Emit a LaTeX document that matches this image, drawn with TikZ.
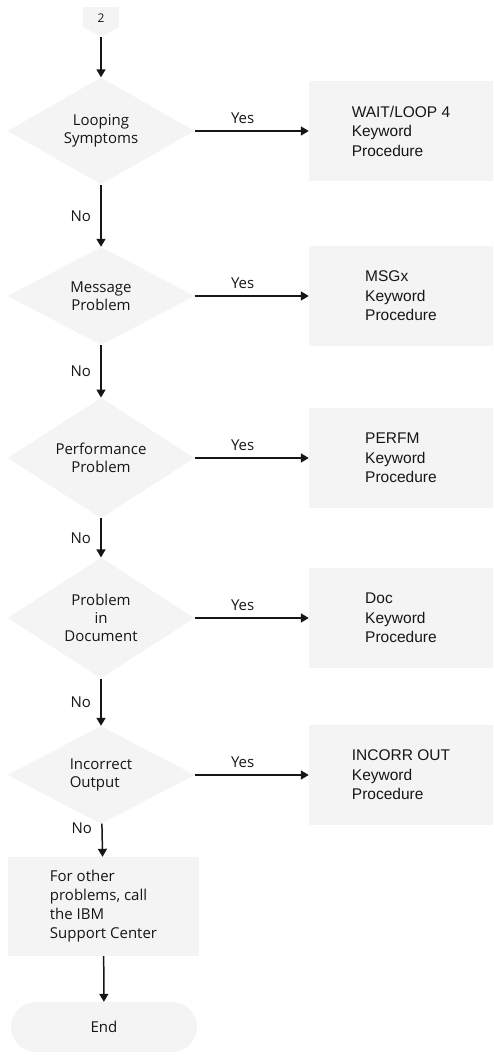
\documentclass[tikz,border=0pt]{standalone}
\usepackage{fontspec}
\setmainfont{Open Sans}
\newfontfamily\kwfont{Liberation Sans}
\usetikzlibrary{shapes, arrows.meta, positioning}
\definecolor{boxgray}{HTML}{F4F4F4}
\definecolor{ink}{HTML}{161616}

\begin{document}
\begin{tikzpicture}[x=1pt, y=-1pt,
        dc/.style={diamond, fill=boxgray, minimum width=187pt, minimum height=98pt, inner sep=0pt, align=center, text=ink, font=\fontsize{15}{18}\selectfont},
        kp/.style={rectangle, fill=boxgray, minimum width=184pt, minimum height=100pt, align=left, text=ink, font=\kwfont\fontsize{15.5}{19.5}\selectfont},
        lb/.style={text=ink, font=\fontsize{12}{14}\selectfont}]
            \useasboundingbox (0,0) rectangle (494,1055);
            \fill[boxgray] (83,7) -- (119,7) -- (119,27) -- (101,37) -- (83,27) -- cycle;
            \draw (101,18) node[lb](c2){2};
            \coordinate (c2tip) at (101,37);
            \draw (101,131) node[dc](d1){Looping\\Symptoms};
            \draw (101,296) node[dc](d2){Message\\Problem};
            \draw (101,458) node[dc](d3){Performance\\Problem};
            \draw (101,618) node[dc](d4){Problem\\in\\Document};
            \draw (101,775) node[dc, align=left](d5){Incorrect\\Output};
            \draw (401,131) node[kp](k1){WAIT/LOOP 4\\Keyword\\Procedure};
            \draw (401,296) node[kp](k2){MSGx\\Keyword\\Procedure};
            \draw (401,458) node[kp](k3){PERFM\\Keyword\\Procedure};
            \draw (401,618) node[kp](k4){Doc\\Keyword\\Procedure};
            \draw (401,775) node[kp](k5){INCORR OUT\\Keyword\\Procedure};
            \draw (103.5,906.5) node[kp, minimum width=191pt, minimum height=99pt, font=\fontsize{15}{19}\selectfont](sc){For other\\problems, call\\the IBM\\Support Center};
            \draw (104,1027) node[rectangle, rounded corners=25pt, fill=boxgray, minimum width=186pt, minimum height=50pt, text=ink, font=\fontsize{15}{18}\selectfont](end){End};
            \begin{scope}[-{Triangle[length=8pt, width=9pt]}, line width=1.5pt, ink, nd/.style={text=ink, font=\fontsize{15}{18}\selectfont}]
                \path (c2tip) edge (d1);
                \path (d1) edge node[nd, left=6pt] {No} (d2);
                \path (d2) edge node[nd, left=6pt] {No} (d3);
                \path (d3) edge node[nd, left=6pt] {No} (d4);
                \path (d4) edge node[nd, left=6pt] {No} (d5);
                \path (d5) edge node[nd, left=6pt, pos=.15] {No} (sc);
                \path (sc) edge (end);
            \end{scope}

            \begin{scope}[-{Triangle[length=8pt, width=9pt]}, line width=1.5pt, ink, nd/.style={text=ink, font=\fontsize{15}{18}\selectfont, above=3pt, pos=.42}]
                \path (d1) edge node[nd] {Yes} (k1);
                \path (d2) edge node[nd] {Yes} (k2);
                \path (d3) edge node[nd] {Yes} (k3);
                \path (d4) edge node[nd] {Yes} (k4);
                \path (d5) edge node[nd] {Yes} (k5);
            \end{scope}
        \end{tikzpicture}
\end{document}
